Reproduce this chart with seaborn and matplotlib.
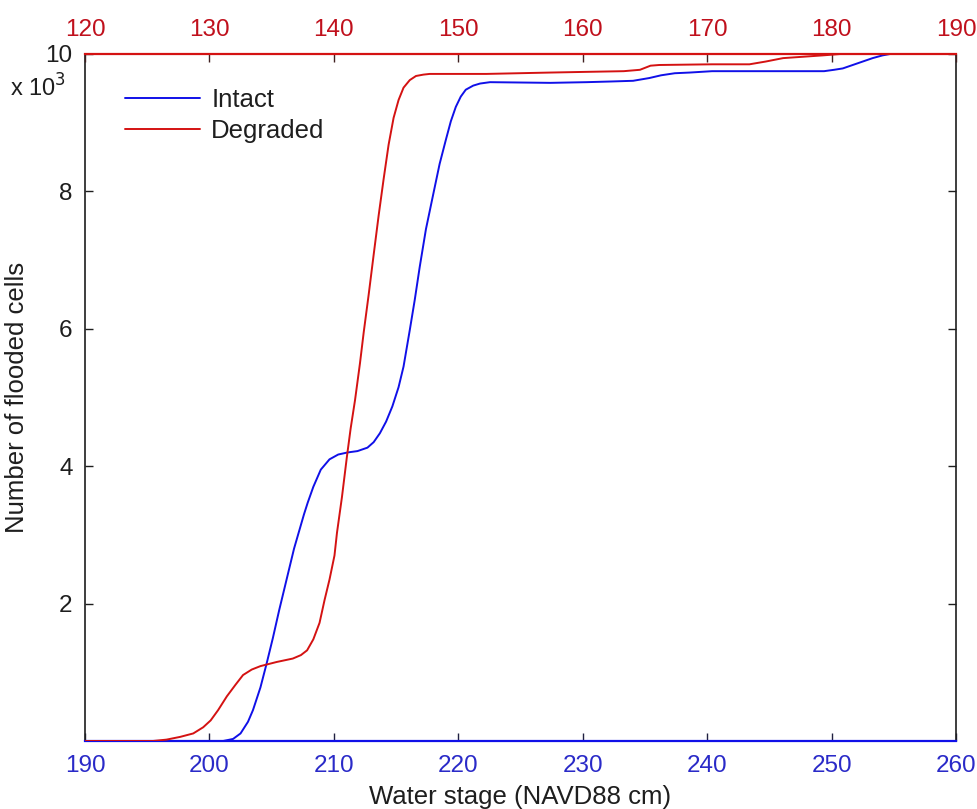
import matplotlib
matplotlib.use("Agg")
import matplotlib.pyplot as plt
import seaborn as sns
import pandas as pd

# ---- data (flooded cells in thousands) ----
intact_stage = [190, 201.1, 201.9, 202.5, 203.1, 203.5, 204.1, 204.6, 205.1, 205.6,
                206.4, 206.8, 207.2, 207.6, 207.9, 208.35, 208.95, 209.65, 210.35, 211.1,
                211.9, 212.7, 213.2, 213.7, 214.2, 214.7, 215.2, 215.6, 216.1, 216.5,
                216.9, 217.4, 218.0, 218.5, 219.0, 219.4, 219.8, 220.2, 220.6, 221.2,
                221.75, 222.55, 227.4, 230.3, 232.3, 234.05, 235.35, 236.3, 237.4, 238.6,
                240.4, 249.4, 250.2, 250.9, 251.7, 252.5, 253.3, 254.1, 254.7, 260]
intact_cells = [0, 0, 0.03, 0.11, 0.28, 0.45, 0.78, 1.13, 1.50, 1.90,
                2.50, 2.80, 3.05, 3.30, 3.47, 3.70, 3.95, 4.10, 4.17, 4.20,
                4.22, 4.27, 4.35, 4.48, 4.65, 4.87, 5.15, 5.45, 5.98, 6.42,
                6.90, 7.45, 7.97, 8.40, 8.75, 9.02, 9.23, 9.38, 9.48, 9.54,
                9.57, 9.59, 9.58, 9.59, 9.60, 9.61, 9.65, 9.69, 9.72, 9.73,
                9.75, 9.75, 9.77, 9.79, 9.84, 9.89, 9.94, 9.98, 10.0, 10.0]

degraded_stage = [120, 125.45, 126.55, 127.65, 128.7, 129.5, 130.1, 130.7, 131.4, 132.1,
                  132.7, 133.4, 134.1, 135.4, 136.7, 137.35, 137.85, 138.35, 138.85, 139.25,
                  139.65, 140.05, 140.25, 140.65, 141.05, 141.35, 141.7, 142.1, 142.4, 142.8,
                  143.2, 143.6, 144.0, 144.4, 144.8, 145.2, 145.6, 146.1, 146.6, 147.2,
                  147.7, 152.25, 157.4, 160.3, 163.3, 164.6, 165.45, 166.15, 170.4, 173.4,
                  174.7, 176.1, 177.7, 179.3, 180.7, 190]
degraded_cells = [0, 0, 0.02, 0.06, 0.11, 0.20, 0.30, 0.45, 0.65, 0.82,
                  0.96, 1.04, 1.09, 1.15, 1.20, 1.25, 1.32, 1.48, 1.72, 2.05,
                  2.35, 2.70, 3.03, 3.55, 4.14, 4.55, 4.96, 5.50, 5.95, 6.50,
                  7.08, 7.65, 8.18, 8.68, 9.07, 9.33, 9.51, 9.62, 9.68, 9.70,
                  9.71, 9.71, 9.73, 9.74, 9.75, 9.77, 9.83, 9.84, 9.85, 9.85,
                  9.89, 9.94, 9.96, 9.98, 10.0, 10.0]

bottom_ticks = [190, 200, 210, 220, 230, 240, 250, 260]
top_ticks = [120, 130, 140, 150, 160, 170, 180, 190]
y_ticks = [2, 4, 6, 8, 10]

BLUE = "#1010e8"
RED = "#d41212"
BLUE_TXT = "#2a2ac8"
RED_TXT = "#c0101c"
DARK = "#1e1e1e"

sns.set_theme(style="white")
plt.rcParams["font.family"] = ["Liberation Sans", "DejaVu Sans"]

fig = plt.figure(figsize=(9.77, 8.09), dpi=100)
ax = fig.add_axes([85 / 977, 1 - 741 / 809, 871 / 977, 687 / 809])

df_i = pd.DataFrame({"stage": intact_stage, "cells": intact_cells})
df_d = pd.DataFrame({"stage": degraded_stage, "cells": degraded_cells})

sns.lineplot(data=df_i, x="stage", y="cells", ax=ax, color=BLUE, lw=1.4,
             label="Intact", legend=False, estimator=None, sort=False)
ax.set_xlim(190, 260)
ax.set_ylim(0, 10)
ax.set_xticks(bottom_ticks)
ax.set_yticks(y_ticks)
ax.set_yticklabels([str(v) for v in y_ticks])
ax.tick_params(axis="x", direction="in", length=6, width=1, color="#202040",
               labelcolor=BLUE_TXT, labelsize=17.5, pad=10, top=False, bottom=True)
ax.tick_params(axis="y", direction="in", length=6, width=1, color=DARK,
               labelcolor=DARK, labelsize=17.5, left=True, right=True, pad=9)
ax.set_xlabel("Water stage (NAVD88 cm)", fontsize=18.5, color=DARK, labelpad=6)
ax.set_ylabel("Number of flooded cells", fontsize=18.5, color=DARK, labelpad=12)
for s in ["left", "right"]:
    ax.spines[s].set_color(DARK)
    ax.spines[s].set_linewidth(1.2)
ax.spines["bottom"].set_color(BLUE)
ax.spines["bottom"].set_linewidth(1.6)
ax.spines["top"].set_visible(False)

ax2 = ax.twiny()
sns.lineplot(data=df_d, x="stage", y="cells", ax=ax2, color=RED, lw=1.4,
             label="Degraded", legend=False, estimator=None, sort=False)
ax2.set_xlim(120, 190)
ax2.set_ylim(0, 10)
ax2.set_xticks(top_ticks)
ax2.set_xlabel("")
ax2.tick_params(axis="x", direction="in", length=6, width=1, color="#402020",
                labelcolor=RED_TXT, labelsize=17.5, pad=9, top=True, bottom=False)
ax2.spines["top"].set_color(RED)
ax2.spines["top"].set_linewidth(1.6)
for s in ["bottom", "left", "right"]:
    ax2.spines[s].set_visible(False)

ax.text(-0.086, 0.950, r"x 10$^3$", transform=ax.transAxes, fontsize=17,
        color=DARK, ha="left", va="center")

h1, l1 = ax.get_legend_handles_labels()
h2, l2 = ax2.get_legend_handles_labels()
leg = ax2.legend(h1 + h2, l1 + l2, loc="upper left", bbox_to_anchor=(0.046, 0.950),
                 frameon=False, fontsize=18.5, handlelength=2.9, handletextpad=0.45,
                 labelspacing=0.25, borderaxespad=0, borderpad=0)
for t in leg.get_texts():
    t.set_color(DARK)

fig.savefig("out.png", dpi=100)
